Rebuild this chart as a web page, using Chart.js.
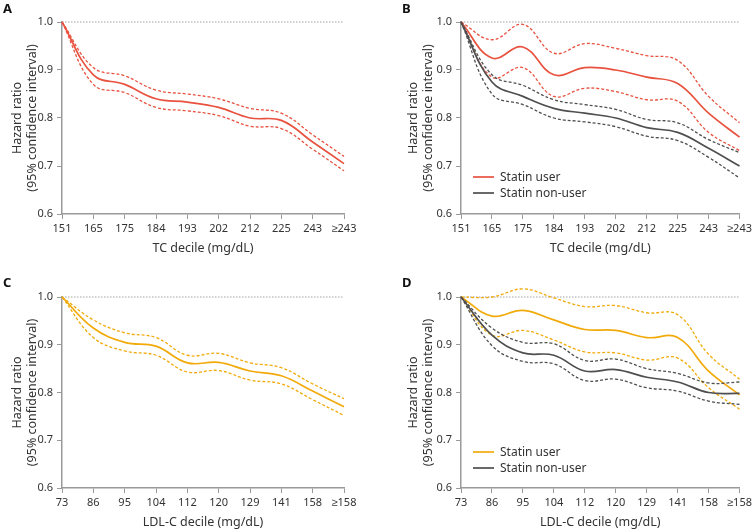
<!DOCTYPE html>
<html lang="en">
<head>
    <meta charset="UTF-8">
    <title>Hazard ratio by TC and LDL-C decile</title>
    <script src="https://cdn.jsdelivr.net/npm/chart.js"></script>
    <style>
        body { margin: 0; background: #fff; }
        .panel { position: absolute; }
        #pA { left: 0; top: 0; width: 377px; height: 265px; }
        #pB { left: 377px; top: 0; width: 378px; height: 265px; }
        #pC { left: 0; top: 265px; width: 377px; height: 265px; }
        #pD { left: 377px; top: 265px; width: 378px; height: 265px; }
    </style>
</head>
<body>
    <div class="panel" id="pA"><canvas id="chartA"></canvas></div>
    <div class="panel" id="pB"><canvas id="chartB"></canvas></div>
    <div class="panel" id="pC"><canvas id="chartC"></canvas></div>
    <div class="panel" id="pD"><canvas id="chartD"></canvas></div>

    <script>
        // tick labels
        const tcLabels = ['151', '165', '175', '184', '193', '202', '212', '225', '243', '≥243'];
        const ldlLabels = ['73', '86', '95', '104', '112', '120', '129', '141', '158', '≥158'];

        // panel A - all, TC
        const tcAll = [1.0, 0.89, 0.87, 0.84, 0.833, 0.822, 0.80, 0.795, 0.75, 0.705];
        const tcAllHi = [1.0, 0.905, 0.888, 0.858, 0.85, 0.84, 0.82, 0.81, 0.765, 0.72];
        const tcAllLo = [1.0, 0.87, 0.853, 0.822, 0.815, 0.805, 0.783, 0.778, 0.735, 0.69];

        // panel B - TC by statin use
        const tcUser = [1.0, 0.925, 0.948, 0.89, 0.905, 0.90, 0.885, 0.872, 0.81, 0.76];
        const tcUserHi = [1.0, 0.963, 0.995, 0.935, 0.955, 0.945, 0.93, 0.92, 0.845, 0.79];
        const tcUserLo = [1.0, 0.885, 0.905, 0.845, 0.862, 0.855, 0.838, 0.835, 0.77, 0.732];
        const tcNon = [1.0, 0.875, 0.845, 0.82, 0.81, 0.80, 0.78, 0.77, 0.737, 0.70];
        const tcNonHi = [1.0, 0.89, 0.868, 0.838, 0.828, 0.818, 0.797, 0.79, 0.755, 0.728];
        const tcNonLo = [1.0, 0.85, 0.828, 0.80, 0.792, 0.782, 0.762, 0.753, 0.718, 0.675];

        // panel C - all, LDL-C
        const ldlAll = [1.0, 0.935, 0.905, 0.897, 0.862, 0.863, 0.845, 0.835, 0.803, 0.77];
        const ldlAllHi = [1.0, 0.952, 0.925, 0.915, 0.878, 0.882, 0.862, 0.852, 0.818, 0.787];
        const ldlAllLo = [1.0, 0.915, 0.887, 0.878, 0.843, 0.846, 0.826, 0.818, 0.785, 0.752];

        // panel D - LDL-C by statin use
        const ldlUser = [1.0, 0.96, 0.972, 0.952, 0.932, 0.93, 0.915, 0.915, 0.845, 0.795];
        const ldlUserHi = [1.0, 1.0, 1.017, 0.998, 0.98, 0.982, 0.967, 0.963, 0.88, 0.828];
        const ldlUserLo = [1.0, 0.92, 0.93, 0.91, 0.885, 0.883, 0.868, 0.872, 0.81, 0.765];
        const ldlNon = [1.0, 0.92, 0.883, 0.878, 0.845, 0.848, 0.832, 0.822, 0.80, 0.798];
        const ldlNonHi = [1.0, 0.935, 0.905, 0.902, 0.867, 0.87, 0.85, 0.84, 0.82, 0.822];
        const ldlNonLo = [1.0, 0.898, 0.865, 0.86, 0.825, 0.828, 0.81, 0.803, 0.782, 0.775];

        const RED = '#e8523f';
        const GOLD = '#f2aa0a';
        const GREY = '#4f4f4f';
        const FONT = "'Noto Sans', sans-serif";
        const TXT = '#333333';
        const AXIS = '#9a9a9a';

        function line(data, color, dashed) {
            return {
                data: data,
                borderColor: color,
                borderWidth: dashed ? 1.3 : 1.7,
                borderDash: dashed ? [3, 2] : [],
                pointRadius: 0,
                fill: false,
                tension: 0.4,
                clip: false
            };
        }

        // dotted reference line at HR = 1.0, panel letter, legend
        const extras = {
            id: 'extras',
            beforeDatasetsDraw(chart, args, opts) {
                const ctx = chart.ctx;
                const y = chart.scales.y.getPixelForValue(1.0);
                ctx.save();
                ctx.strokeStyle = '#8c8c8c';
                ctx.lineWidth = 0.8;
                ctx.setLineDash([1.5, 1.5]);
                ctx.beginPath();
                ctx.moveTo(chart.chartArea.left, y);
                ctx.lineTo(chart.chartArea.right, y);
                ctx.stroke();
                ctx.restore();
            },
            afterDraw(chart, args, opts) {
                const ctx = chart.ctx;
                ctx.save();
                ctx.fillStyle = '#111';
                ctx.font = 'bold 13px ' + FONT;
                ctx.textBaseline = 'top';
                ctx.fillText(opts.letter, opts.letterX, opts.letterY);
                if (opts.legend) {
                    ctx.font = '12px ' + FONT;
                    ctx.textBaseline = 'middle';
                    opts.legend.forEach((item, i) => {
                        const y = opts.legendY + i * 16;
                        ctx.strokeStyle = item.color;
                        ctx.lineWidth = 1.7;
                        ctx.beginPath();
                        ctx.moveTo(opts.legendX, y);
                        ctx.lineTo(opts.legendX + 21, y);
                        ctx.stroke();
                        ctx.fillStyle = TXT;
                        ctx.fillText(item.text, opts.legendX + 27, y + 1);
                    });
                }
                ctx.restore();
            }
        };

        function makePanel(id, labels, datasets, xTitle, p) {
            new Chart(document.getElementById(id), {
                type: 'line',
                data: { labels: labels, datasets: datasets },
                plugins: [extras],
                options: {
                    responsive: true,
                    maintainAspectRatio: false,
                    animation: false,
                    layout: { padding: { top: p.top, right: p.right, bottom: p.bottom, left: 0 } },
                    plugins: {
                        legend: { display: false },
                        tooltip: { enabled: false },
                        extras: p.extras
                    },
                    scales: {
                        x: {
                            type: 'category',
                            offset: false,
                            afterFit: (s) => { s.height = 42; },
                            grid: { drawOnChartArea: false, drawTicks: true, tickLength: 5, color: AXIS, lineWidth: 1 },
                            border: { color: AXIS, width: 1.5 },
                            ticks: { color: TXT, font: { family: FONT, size: 11 }, padding: 3, maxRotation: 0, autoSkip: false },
                            title: { display: true, text: xTitle, color: TXT, font: { family: FONT, size: 12.5 }, padding: { top: 4, bottom: 0 } }
                        },
                        y: {
                            min: 0.6,
                            max: 1.0,
                            afterFit: (s) => { s.width = p.yWidth; },
                            grid: { drawOnChartArea: false, drawTicks: true, tickLength: 5, color: AXIS, lineWidth: 1 },
                            border: { color: AXIS, width: 1.5 },
                            ticks: { stepSize: 0.1, color: TXT, font: { family: FONT, size: 11 }, padding: 4,
                                callback: (v) => v.toFixed(1) },
                            title: { display: true, text: ['Hazard ratio', '(95% confidence interval)'], color: TXT,
                                font: { family: FONT, size: 12.5 }, padding: { top: p.yTitlePad, bottom: 0 } }
                        }
                    }
                }
            });
        }

        makePanel('chartA', tcLabels, [
            line(tcAllHi, RED, true), line(tcAllLo, RED, true), line(tcAll, RED, false)
        ], 'TC decile (mg/dL)', {
            top: 22, right: 33, bottom: 9, yWidth: 62, yTitlePad: 10,
            extras: { letter: 'A', letterX: 3, letterY: 3 }
        });

        makePanel('chartB', tcLabels, [
            line(tcNonHi, GREY, true), line(tcNonLo, GREY, true), line(tcNon, GREY, false),
            line(tcUserHi, RED, true), line(tcUserLo, RED, true), line(tcUser, RED, false)
        ], 'TC decile (mg/dL)', {
            top: 22, right: 11, bottom: 9, yWidth: 84, yTitlePad: 29,
            extras: { letter: 'B', letterX: 25, letterY: 3, legendX: 96, legendY: 177,
                legend: [{ text: 'Statin user', color: RED }, { text: 'Statin non-user', color: GREY }] }
        });

        makePanel('chartC', ldlLabels, [
            line(ldlAllHi, GOLD, true), line(ldlAllLo, GOLD, true), line(ldlAll, GOLD, false)
        ], 'LDL-C decile (mg/dL)', {
            top: 32, right: 33, bottom: 0, yWidth: 62, yTitlePad: 10,
            extras: { letter: 'C', letterX: 3, letterY: 12 }
        });

        makePanel('chartD', ldlLabels, [
            line(ldlNonHi, GREY, true), line(ldlNonLo, GREY, true), line(ldlNon, GREY, false),
            line(ldlUserHi, GOLD, true), line(ldlUserLo, GOLD, true), line(ldlUser, GOLD, false)
        ], 'LDL-C decile (mg/dL)', {
            top: 32, right: 11, bottom: 0, yWidth: 84, yTitlePad: 29,
            extras: { letter: 'D', letterX: 25, letterY: 12, legendX: 96, legendY: 187,
                legend: [{ text: 'Statin user', color: GOLD }, { text: 'Statin non-user', color: GREY }] }
        });
    </script>
</body>
</html>
